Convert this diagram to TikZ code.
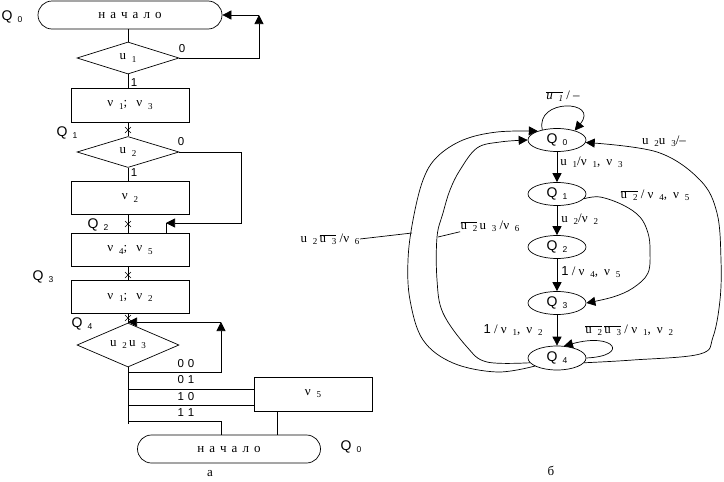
\documentclass[tikz,border=0pt]{standalone}
\usepackage{fontspec}
\setmainfont{Liberation Serif}
\newfontfamily\qfont{Liberation Sans}
\usetikzlibrary{shapes.geometric,shapes.misc,arrows.meta}
\newcommand\lo[1]{\hspace{0.45em}\raisebox{-0.35ex}{\fontsize{9}{9}\selectfont #1}}
\newcommand\ob[1]{$\overline{\hbox{#1}}$}
\newcommand\nach{н\hspace{5pt}а\hspace{5pt}ч\hspace{5pt}а\hspace{5pt}л\hspace{5pt}о}
\newcommand\Qs[1]{{\qfont\fontsize{14}{14}\selectfont Q\hspace{0.35em}\raisebox{-0.3ex}{\fontsize{8.5}{8.5}\selectfont #1}}}
\begin{document}
\begin{tikzpicture}[x=1pt,y=-1pt,line width=0.7pt,
  font=\fontsize{13}{13}\selectfont,
  blk/.style={draw, rectangle, minimum width=118, minimum height=33, inner sep=0},
  dia/.style={draw, diamond, minimum width=102, minimum height=32, inner sep=0},
  term/.style={draw, rounded rectangle, minimum width=184, minimum height=28, inner sep=0},
  st/.style={draw, ellipse, minimum width=58, minimum height=23, inner sep=0},
  arr/.style={-{Triangle[length=9pt,width=9pt]}},
  txt/.style={inner sep=0},
  dig/.style={inner sep=0, font=\qfont\fontsize{11.5}{11.5}\selectfont}]
\useasboundingbox (0,0) rectangle (724,482);

% ---------- left flowchart ----------
\node[term] (t1) at (130,15) {\nach};
\node[txt] (lq0) at (12,17) {\Qs{0}};
\node[dia] (d1) at (128,58) {u\lo{1}};
\node[blk, minimum height=34] (b1) at (130,105) {ν\lo{1};\hspace{9pt}ν\lo{3}};
\node[txt] (lq1) at (67,133) {\Qs{1}};
\node[dia, minimum height=31] (d2) at (128,152) {u\lo{2}};
\node[blk] (b2) at (130,198) {ν\lo{2}};
\node[txt] (lq2) at (98,225) {\Qs{2}};
\node[blk] (b3) at (130,250) {ν\lo{4};\hspace{9pt}ν\lo{5}};
\node[txt] (lq3) at (43,277) {\Qs{3}};
\node[blk] (b4) at (130,297) {ν\lo{1};\hspace{9pt}ν\lo{2}};
\node[txt] (lq4) at (82,324) {\Qs{4}};
\node[dia] (d3) at (128,345) {u\lo{2}\,u\lo{3}};
\node[blk, minimum height=34] (b5) at (313,394) {ν\lo{5}};
\node[term, minimum width=183] (t2) at (229,449) {\nach};
\node[txt] (lq0b) at (351,447) {\Qs{0}};
\node[txt] (ca) at (210,474) {а};

% cross marks
\foreach \yy in {130,224,275,318}
  \draw[line width=0.5pt] (125,\yy-3) -- (131,\yy+3) (125,\yy+3) -- (131,\yy-3);

% main flow
\draw (t1.south -| d1.north) -- (d1.north);
\draw (d1.south) -- (d1.south |- b1.north);
\draw (b1.south -| d1.south) -- (d2.north);
\draw (d2.south) -- (d2.south |- b2.north);
\draw (b2.south -| d2.south) -- (b3.north -| d2.south);
\draw (b3.south -| d2.south) -- (b4.north -| d2.south);
\draw (b4.south -| d2.south) -- (d3.north);

% loop u1
\coordinate (r1) at (259,15);
\draw[arr] (d1.east) -| (r1);
\draw[arr] (r1) -- (t1.east);
\node[dig] (z1) at (182,49) {0};
\node[dig] (o1) at (134,83) {1};

% loop u2
\coordinate (r2) at (241,223);
\coordinate (r3) at (166,223);
\draw[arr] (d2.east) -| (r2) -- (r3);
\draw (r3) -- (r3 |- b3.north);
\node[dig] (z2) at (181,142) {0};
\node[dig] (o2) at (134,173) {1};

% branches of u2u3
\coordinate (j0) at (128,424);
\draw (d3.south) -- (j0);
\coordinate (r4) at (221,372);
\coordinate (r5) at (221,322);
\draw[arr] (d3.south |- r4) -- (r4) -- (r5);
\draw[arr] (r5) -- (d3.north |- r5);
\coordinate (k1) at (128,389);
\draw (k1) -- (k1 -| b5.west);
\coordinate (k2) at (128,405);
\draw (k2) -- (k2 -| b5.west);
\coordinate (k3) at (128,421);
\coordinate (r6) at (221,421);
\draw (k3) -- (r6) -- (r6 |- t2.north);
\coordinate (v5) at (277,411);
\draw (v5) -- (v5 |- t2.north);
\node[dig] (c00) at (186,364) {0\hspace{4pt}0};
\node[dig] (c01) at (186,380) {0\hspace{4pt}1};
\node[dig] (c10) at (186,397) {1\hspace{4pt}0};
\node[dig] (c11) at (186,413) {1\hspace{4pt}1};

% ---------- right state graph ----------
\node[st] (q0) at (557,140) {\Qs{0}};
\node[st] (q1) at (557,194) {\Qs{1}};
\node[st] (q2) at (557,247) {\Qs{2}};
\node[st] (q3) at (557,303) {\Qs{3}};
\node[st, minimum height=24] (q4) at (557,358) {\Qs{4}};

\draw[arr] (q0) -- (q1);
\draw[arr] (q1) -- (q2);
\draw[arr] (q2) -- (q3);
\draw[arr] (q3) -- (q4);

\node[txt, anchor=west] (l01) at (560,162) {u\lo{1}/ν\lo{1},\hspace{6pt}ν\lo{3}};
\node[txt, anchor=west] (l12) at (561,219) {u\lo{2}/ν\lo{2}};
\node[txt, anchor=west] (l23) at (561,272) {{\qfont 1} / ν\lo{4},\hspace{6pt}ν\lo{5}};
\node[txt, anchor=east] (l34) at (543,330) {{\qfont 1} / ν\lo{1},\hspace{6pt}ν\lo{2}};
\node[txt, anchor=west] (l44) at (585,330) {\ob{u\lo{2}}\,\ob{u\lo{3}} / ν\lo{1},\hspace{6pt}ν\lo{2}};
\node[txt] (l00) at (563,96) {\ob{\itshape u\lo{1}} / –};
\node[txt] (l40) at (664,141) {u\lo{2}u\lo{3}/–};
\node[txt] (l13) at (655,195) {\ob{u\lo{2}} / ν\lo{4},\hspace{6pt}ν\lo{5}};
\node[txt] (lout) at (330,239) {u\lo{2}\,\ob{u\lo{3}} /ν\lo{6}};
\node[txt] (lin) at (490,226) {\ob{u\lo{2}}\,u\lo{3} /ν\lo{6}};
\node[txt] (cb) at (551,471) {б};

% self loops
\draw[arr] (q0.145) .. controls (535,98) and (600,100) .. (q0.28);
\draw[arr] (q4.east) .. controls (630,356) and (615,332) .. (q4.60);

% long curves
\draw[arr] plot[smooth, tension=0.6] coordinates {(q4.200) (497,372) (453,363) (423,340) (410,300) (408,260) (413,220) (423,180) (437,157) (463,140) (497,132) (q0.155)};
\draw[arr] plot[smooth, tension=0.6] coordinates {(q4.190) (487,362) (467,347) (443,313) (437,280) (437,237) (443,213) (450,190) (460,170) (477,148) (500,142) (q0.west)};
\draw[arr] plot[smooth, tension=0.6] coordinates {(q4.-10) (633,360) (700,354) (713,337) (720,300) (721,260) (717,213) (700,180) (657,152) (q0.-5)};
\draw[arr] plot[smooth, tension=0.6] coordinates {(q1.-10) (600,197) (623,205) (640,217) (648,233) (650,250) (648,273) (633,288) (613,297) (q3.east)};

% label leaders
\coordinate (po) at (412,233);
\draw (lout.east) -- (po);
\coordinate (pi) at (438,237);
\draw (lin.south west) -- (pi);
\end{tikzpicture}
\end{document}
